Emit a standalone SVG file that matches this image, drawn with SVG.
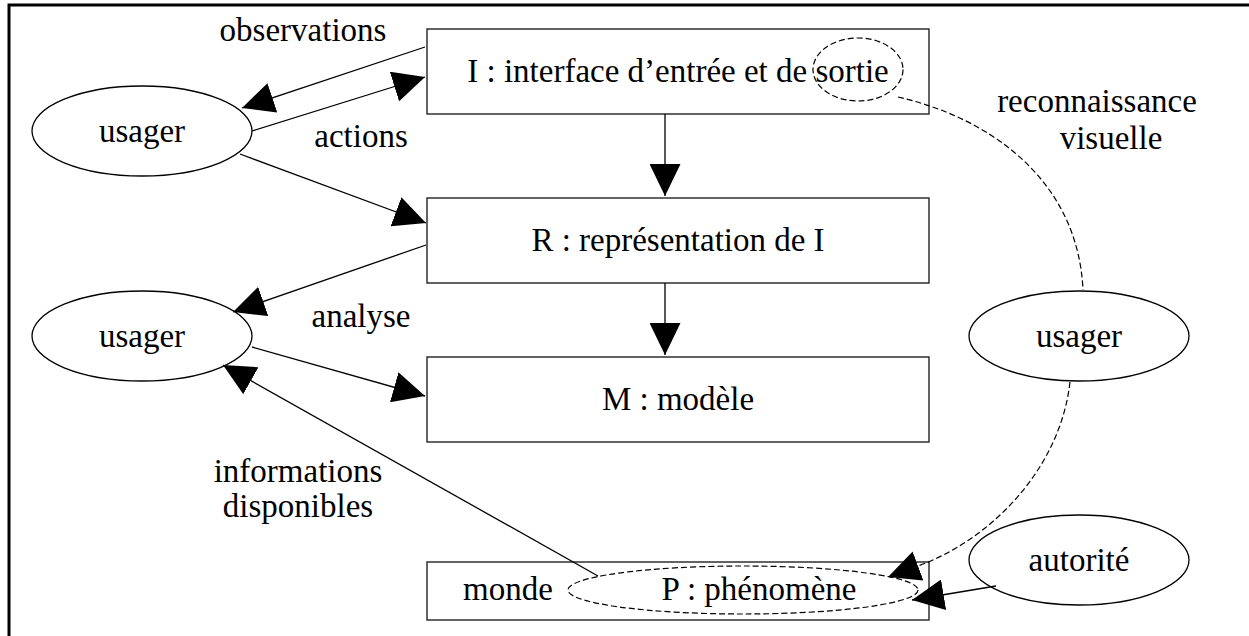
<svg xmlns="http://www.w3.org/2000/svg" width="1249" height="636" viewBox="0 0 1249 636">
<style>
  text { font-family: "Liberation Serif", "Times New Roman", serif; font-size: 33px; fill: #000; }
  .c { text-anchor: middle; }
  .box { fill: none; stroke: #222; stroke-width: 1.4; }
  .ell { fill: none; stroke: #000; stroke-width: 1.3; }
  .dell { fill: none; stroke: #000; stroke-width: 1.2; stroke-dasharray: 6 3; }
  .edge { fill: none; stroke: #000; stroke-width: 1.3; marker-end: url(#ah); }
  .dedge { fill: none; stroke: #000; stroke-width: 1.2; stroke-dasharray: 6 3; }
</style>
<defs>
  <marker id="ah" viewBox="0 0 32 31" refX="32" refY="15.5" markerWidth="32" markerHeight="31" markerUnits="userSpaceOnUse" orient="auto">
    <path d="M0,0 L32,15.5 L0,31 z" fill="#000"/>
  </marker>
</defs>
<rect width="1249" height="636" fill="#fff"/>
<rect x="9" y="5" width="1300" height="700" fill="none" stroke="#000" stroke-width="3"/>

<g id="node-I">
  <rect class="box" x="427" y="29" width="502" height="85"/>
  <text class="c" x="678" y="82">I : interface d’entrée et de sortie</text>
  <ellipse class="dell" cx="858" cy="69.5" rx="45" ry="31.5"/>
</g>
<g id="node-R">
  <rect class="box" x="427" y="198" width="502" height="85"/>
  <text class="c" x="678" y="251">R : représentation de I</text>
</g>
<g id="node-M">
  <rect class="box" x="427" y="357" width="502" height="85"/>
  <text class="c" x="678" y="410">M : modèle</text>
</g>
<g id="node-monde">
  <rect class="box" x="427" y="562" width="502" height="58"/>
  <text class="c" x="508" y="600">monde</text>
  <ellipse class="dell" cx="743" cy="590" rx="175" ry="24"/>
  <text class="c" x="759" y="600">P : phénomène</text>
</g>
<g id="node-usager1">
  <ellipse class="ell" cx="142" cy="131" rx="110" ry="45"/>
  <text class="c" x="142" y="142">usager</text>
</g>
<g id="node-usager2">
  <ellipse class="ell" cx="142" cy="336" rx="110" ry="45"/>
  <text class="c" x="142" y="347">usager</text>
</g>
<g id="node-usager3">
  <ellipse class="ell" cx="1079" cy="336" rx="110" ry="45"/>
  <text class="c" x="1079" y="347">usager</text>
</g>
<g id="node-autorite">
  <ellipse class="ell" cx="1079" cy="560" rx="110" ry="45"/>
  <text class="c" x="1079" y="571">autorité</text>
</g>

<g id="connectors">
  <path class="edge" d="M425,47 L242,108"/>
  <path class="edge" d="M252,131 L425,77"/>
  <path class="edge" d="M240,154 L426,223"/>
  <path class="edge" d="M426,245 L233,312"/>
  <path class="edge" d="M252,347 L425,396"/>
  <path class="edge" d="M598,576 L223,365"/>
  <path class="edge" d="M665,114 L665,196"/>
  <path class="edge" d="M665,283 L665,355"/>
  <path class="edge" d="M996,586 L912,600"/>
  <path class="dedge" d="M898,97 C990,118 1078,180 1083,290"/>
  <path class="dedge" d="M1070,382 C1060,470 990,540 918,566"/>
  <path d="M918,566 L888,577" fill="none" stroke="none" marker-end="url(#ah)"/>
</g>

<g id="labels">
  <text class="c" x="303" y="41">observations</text>
  <text class="c" x="361" y="147">actions</text>
  <text class="c" x="361" y="327">analyse</text>
  <text class="c" x="298" y="482">informations</text>
  <text class="c" x="298" y="517">disponibles</text>
  <text class="c" x="1097" y="112">reconnaissance</text>
  <text class="c" x="1111" y="149">visuelle</text>
</g>
</svg>
